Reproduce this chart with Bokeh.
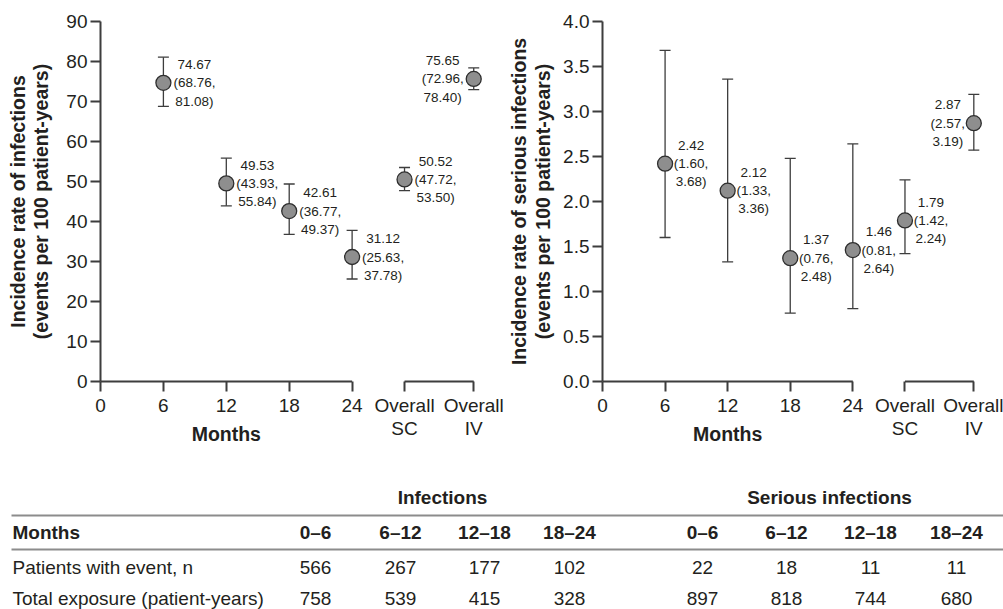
from bokeh.plotting import figure
from bokeh.models import ColumnDataSource, Whisker, TeeHead, FixedTicker, Range1d, NumeralTickFormatter
from bokeh.layouts import column, row
from bokeh.embed import file_html
from bokeh.resources import INLINE
from bokeh.core.properties import value

# ---------------- data ----------------
months = [6, 12, 18, 24]
overall_groups = ["Overall SC", "Overall IV"]

inf_rate = [74.67, 49.53, 42.61, 31.12]
inf_lo = [68.76, 43.93, 36.77, 25.63]
inf_hi = [81.08, 55.84, 49.37, 37.78]
inf_overall_rate = [50.52, 75.65]
inf_overall_lo = [47.72, 72.96]
inf_overall_hi = [53.50, 78.40]

ser_rate = [2.42, 2.12, 1.37, 1.46]
ser_lo = [1.60, 1.33, 0.76, 0.81]
ser_hi = [3.68, 3.36, 2.48, 2.64]
ser_overall_rate = [1.79, 2.87]
ser_overall_lo = [1.42, 2.57]
ser_overall_hi = [2.24, 3.19]

month_ticks = [0, 6, 12, 18, 24]
inf_y_ticks = [0, 10, 20, 30, 40, 50, 60, 70, 80, 90]
ser_y_ticks = [0.0, 0.5, 1.0, 1.5, 2.0, 2.5, 3.0, 3.5, 4.0]

table_groups = ["Infections", "Serious infections"]
table_periods = ["0–6", "6–12", "12–18", "18–24"]
row_labels = ["Months", "Patients with event, n", "Total exposure (patient-years)"]
inf_patients = [566, 267, 177, 102]
inf_exposure = [758, 539, 415, 328]
ser_patients = [22, 18, 11, 11]
ser_exposure = [897, 818, 744, 680]

# ---------------- layout / style ----------------
OVERALL_X = [29, 35.6]
XMAX = 37.2
FONT = "Liberation Sans"
AX = "#3d3d3d"
TXT = "#231f20"
H_CHART = 450


def make_chart(rates, los, his, orates, olos, ohis, yticks, ymax, ylabel,
               fmt, off, border_left, border_right, title_standoff, yformatter=None):
    width = border_left + 390 + border_right
    p = figure(width=width, height=H_CHART, x_range=Range1d(0, XMAX),
               y_range=Range1d(0, ymax), output_backend="svg",
               toolbar_location=None, min_border_left=border_left,
               min_border_right=border_right, min_border_top=21,
               min_border_bottom=69)
    p.grid.visible = False
    p.outline_line_color = None
    p.background_fill_color = "white"

    # y axis
    ya = p.yaxis[0]
    ya.ticker = FixedTicker(ticks=yticks)
    if yformatter is not None:
        ya.formatter = yformatter
    ya.axis_line_color = AX
    ya.axis_line_width = 2
    ya.major_tick_line_color = AX
    ya.major_tick_line_width = 2
    ya.major_tick_in = 0
    ya.major_tick_out = 10
    ya.minor_tick_line_color = None
    ya.major_label_text_font = FONT
    ya.major_label_text_font_size = "19px"
    ya.major_label_text_color = TXT
    ya.major_label_standoff = 3
    ya.axis_label = ylabel
    ya.axis_label_text_font = FONT
    ya.axis_label_text_font_size = "19.5px"
    ya.axis_label_text_font_style = "bold"
    ya.axis_label_text_color = TXT
    ya.axis_label_text_line_height = 1.08
    ya.axis_label_standoff = title_standoff

    # x axis
    xa = p.xaxis[0]
    xa.ticker = FixedTicker(ticks=month_ticks + OVERALL_X)
    overrides = {t: str(t) for t in month_ticks}
    for xg, g in zip(OVERALL_X, overall_groups):
        overrides[xg] = g.split(" ")[0]
    xa.major_label_overrides = overrides
    xa.axis_line_color = None
    xa.major_tick_line_color = AX
    xa.major_tick_line_width = 2
    xa.major_tick_in = 0
    xa.major_tick_out = 10
    xa.minor_tick_line_color = None
    xa.major_label_text_font = FONT
    xa.major_label_text_font_size = "19px"
    xa.major_label_text_color = TXT
    xa.major_label_standoff = 3

    # axis baseline pieces (0-24 and bracket over the overall groups)
    p.segment(x0=[month_ticks[0], OVERALL_X[0]], y0=[0, 0],
              x1=[month_ticks[-1], OVERALL_X[1]], y1=[0, 0],
              line_color=AX, line_width=2, level="overlay")
    p.text(x=OVERALL_X, y=[0, 0], text=[g.split(" ")[1] for g in overall_groups],
           y_offset=47, text_align="center", text_baseline="middle",
           text_font=value(FONT), text_font_size="19px", text_color=TXT,
           level="overlay")
    p.text(x=[(month_ticks[0] + month_ticks[-1]) / 2], y=[0], text=["Months"],
           y_offset=52, text_align="center", text_baseline="middle",
           text_font=value(FONT), text_font_size="19.5px", text_font_style="bold",
           text_color=TXT, level="overlay")

    xs = months + OVERALL_X
    ys = rates + orates
    lo = los + olos
    hi = his + ohis
    labels = [f"{v:{fmt}}\n({a:{fmt}},\n{b:{fmt}})" for v, a, b in zip(ys, lo, hi)]
    xoff = [off] * (len(xs) - 1) + [-off]
    src = ColumnDataSource(dict(x=xs, y=ys, lo=lo, hi=hi, label=labels, xoff=xoff))

    w = Whisker(source=src, base="x", lower="lo", upper="hi", dimension="height",
                line_color=AX, line_width=1.3,
                upper_head=TeeHead(size=11, line_color=AX, line_width=1.3),
                lower_head=TeeHead(size=11, line_color=AX, line_width=1.3))
    p.add_layout(w)
    p.scatter("x", "y", source=src, size=15, fill_color="#8e8e8e",
              line_color="#2e2e2e", line_width=1.3)
    p.text("x", "y", text="label", source=src, x_offset="xoff",
           text_align="center", text_baseline="middle",
           text_font=value(FONT), text_font_size="13.5px", text_color=TXT,
           text_line_height=1.22)
    return p


p1 = make_chart(inf_rate, inf_lo, inf_hi, inf_overall_rate, inf_overall_lo,
                inf_overall_hi, inf_y_ticks, 90,
                "Incidence rate of infections\n(events per 100 patient-years)",
                ".2f", 31, 100, 15, 11)
p2 = make_chart(ser_rate, ser_lo, ser_hi, ser_overall_rate, ser_overall_lo,
                ser_overall_hi, ser_y_ticks, 4.0,
                "Incidence rate of serious infections\n(events per 100 patient-years)",
                ".2f", 26, 95, 13, 6, NumeralTickFormatter(format="0.0"))

# ---------------- table ----------------
t = figure(width=1003, height=159, x_range=Range1d(0, 1003), y_range=Range1d(159, 0),
           output_backend="svg", toolbar_location=None, min_border=0,
           x_axis_location=None, y_axis_location=None)
t.grid.visible = False
t.outline_line_color = None

col_x = [315, 400, 484, 569, 702, 786, 870, 956]
Y_GROUP, Y_LINE1, Y_HEAD, Y_LINE2, Y_ROW1, Y_ROW2 = 47, 65, 82, 99, 117, 148
TFS = "19px"

t.segment(x0=[11, 11], y0=[Y_LINE1, Y_LINE2], x1=[1003, 1003], y1=[Y_LINE1, Y_LINE2],
          line_color="#8c8c8c", line_width=2)
t.text(x=[(col_x[0] + col_x[3]) / 2, (col_x[4] + col_x[7]) / 2], y=[Y_GROUP] * 2,
       text=table_groups, text_align="center", text_baseline="middle",
       text_font=value(FONT), text_font_size=TFS, text_font_style="bold", text_color=TXT)
t.text(x=[12], y=[Y_HEAD], text=[row_labels[0]], text_align="left", text_baseline="middle",
       text_font=value(FONT), text_font_size=TFS, text_font_style="bold", text_color=TXT)
t.text(x=col_x, y=[Y_HEAD] * 8, text=table_periods + table_periods, text_align="center",
       text_baseline="middle", text_font=value(FONT), text_font_size=TFS,
       text_font_style="bold", text_color=TXT)
t.text(x=[12, 12], y=[Y_ROW1, Y_ROW2], text=row_labels[1:], text_align="left",
       text_baseline="middle", text_font=value(FONT), text_font_size=TFS, text_color=TXT)
t.text(x=col_x, y=[Y_ROW1] * 8, text=[str(v) for v in inf_patients + ser_patients],
       text_align="center", text_baseline="middle", text_font=value(FONT),
       text_font_size=TFS, text_color=TXT)
t.text(x=col_x, y=[Y_ROW2] * 8, text=[str(v) for v in inf_exposure + ser_exposure],
       text_align="center", text_baseline="middle", text_font=value(FONT),
       text_font_size=TFS, text_color=TXT)

layout = column(row(p1, p2), t)
open("out.html", "w").write(file_html(layout, INLINE))
